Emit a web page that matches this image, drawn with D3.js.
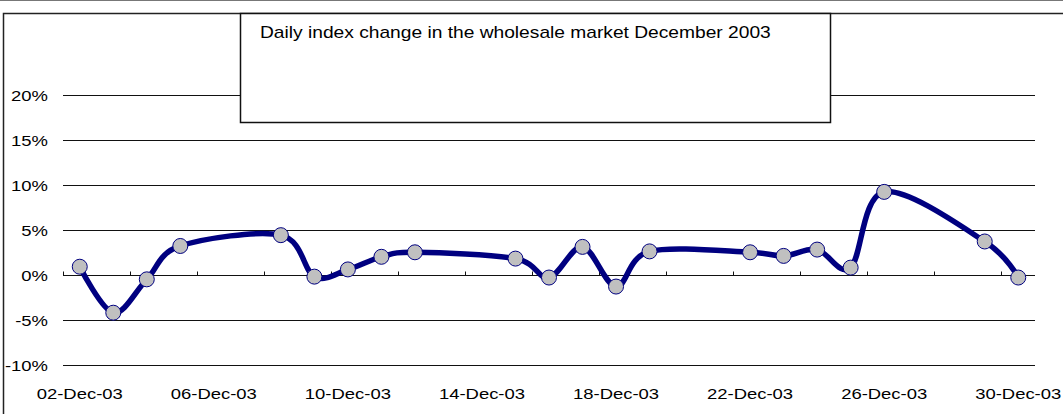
<!DOCTYPE html>
<html>
<head>
<meta charset="utf-8">
<script src="https://cdn.jsdelivr.net/npm/d3@7"></script>
<style>
  body { margin: 0; background: #fff; }
  svg text { font-family: "Liberation Sans", Arial, sans-serif; fill: #000; }
</style>
</head>
<body>
<div id="chart"></div>
<script>
var titleText = "Daily index change in the wholesale market December 2003";
var dates = ["2003-12-02", "2003-12-03", "2003-12-04", "2003-12-05", "2003-12-08",
    "2003-12-09", "2003-12-10", "2003-12-11", "2003-12-12", "2003-12-15",
    "2003-12-16", "2003-12-17", "2003-12-18", "2003-12-19", "2003-12-22",
    "2003-12-23", "2003-12-24", "2003-12-25", "2003-12-26", "2003-12-29",
    "2003-12-30"];
var changes = [0.9, -4.2, -0.5, 3.2, 4.4, -0.2, 0.6, 2.0, 2.5, 1.8,
    -0.3, 3.1, -1.3, 2.6, 2.5, 2.1, 2.8, 0.8, 9.2, 3.7, -0.3];
var yTicks = [-10, -5, 0, 5, 10, 15, 20];
var xLabelDates = ["2003-12-02", "2003-12-06", "2003-12-10", "2003-12-14",
    "2003-12-18", "2003-12-22", "2003-12-26", "2003-12-30"];

var width = 1063, height = 414;
var lineColor = "#000080", markerFill = "#c0c0c0";
var stretch = 1.23; // the old chart's text is wide, so stretch it sideways

var parse = d3.timeParse("%Y-%m-%d");
var fmt = d3.timeFormat("%d-%b-%y");
var data = dates.map((d, i) => ({ date: parse(d), value: changes[i] }));

var svg = d3.select("#chart")
    .append("svg")
    .attr("width", width)
    .attr("height", height);

// half a day either side of first / last date
var x = d3.scaleTime()
    .domain([d3.timeHour.offset(parse("2003-12-02"), -12), d3.timeHour.offset(parse("2003-12-30"), 12)])
    .range([63, 1035]);
var y = d3.scaleLinear().domain([-10, 20]).range([365, 94.5]);

// outer frame
svg.append("line").attr("x1", 0).attr("x2", width).attr("y1", 0.5).attr("y2", 0.5)
    .attr("stroke", "#777").attr("stroke-width", 1);
svg.append("path").attr("d", "M3.5," + height + "V13.5H" + width)
    .attr("fill", "none").attr("stroke", "#222").attr("stroke-width", 1.5);

// gridlines
svg.append("g").selectAll("line")
    .data(yTicks)
    .enter()
    .append("line")
    .attr("x1", x.range()[0]).attr("x2", x.range()[1])
    .attr("y1", d => Math.round(y(d)) + 0.5)
    .attr("y2", d => Math.round(y(d)) + 0.5)
    .attr("stroke", "#111").attr("stroke-width", 1);

// y labels
svg.append("g").selectAll("text")
    .data(yTicks)
    .enter()
    .append("text")
    .attr("transform", d => `translate(48,${Math.round(y(d)) + 6}) scale(${stretch},1)`)
    .attr("text-anchor", "end")
    .attr("font-size", "15px")
    .text(d => d + "%");

// x axis tick marks on the 0% line, every 2 days
var tickDates = d3.range(0, 29, 2).map(k => d3.timeHour.offset(x.domain()[0], k * 24));
var y0 = Math.round(y(0)) + 0.5;
svg.append("g").selectAll("line")
    .data(tickDates)
    .enter()
    .append("line")
    .attr("x1", d => Math.round(x(d)) + 0.5).attr("x2", d => Math.round(x(d)) + 0.5)
    .attr("y1", y0).attr("y2", y0 - 4)
    .attr("stroke", "#111");

// x labels
svg.append("g").selectAll("text")
    .data(xLabelDates.map(parse))
    .enter()
    .append("text")
    .attr("transform", d => `translate(${x(d)},399) scale(${stretch},1)`)
    .attr("text-anchor", "middle")
    .attr("font-size", "15px")
    .text(d => fmt(d));

// series line
var line = d3.line()
    .x(d => x(d.date))
    .y(d => y(d.value))
    .curve(d3.curveCardinal.tension(0));

svg.append("path")
    .datum(data)
    .attr("d", line)
    .attr("fill", "none")
    .attr("stroke", lineColor)
    .attr("stroke-width", 5.5)
    .attr("stroke-linejoin", "round");

svg.append("g").selectAll("circle")
    .data(data)
    .enter()
    .append("circle")
    .attr("cx", d => x(d.date))
    .attr("cy", d => y(d.value))
    .attr("r", 7.5)
    .attr("fill", markerFill)
    .attr("stroke", lineColor)
    .attr("stroke-width", 1);

// title box
svg.append("rect")
    .attr("x", 240.5).attr("y", 13.5)
    .attr("width", 590).attr("height", 109)
    .attr("fill", "#fff").attr("stroke", "#111").attr("stroke-width", 1.5);
svg.append("text")
    .attr("transform", "translate(260,38) scale(1.2,1)")
    .attr("font-size", "16px")
    .text(titleText);
</script>
</body>
</html>
